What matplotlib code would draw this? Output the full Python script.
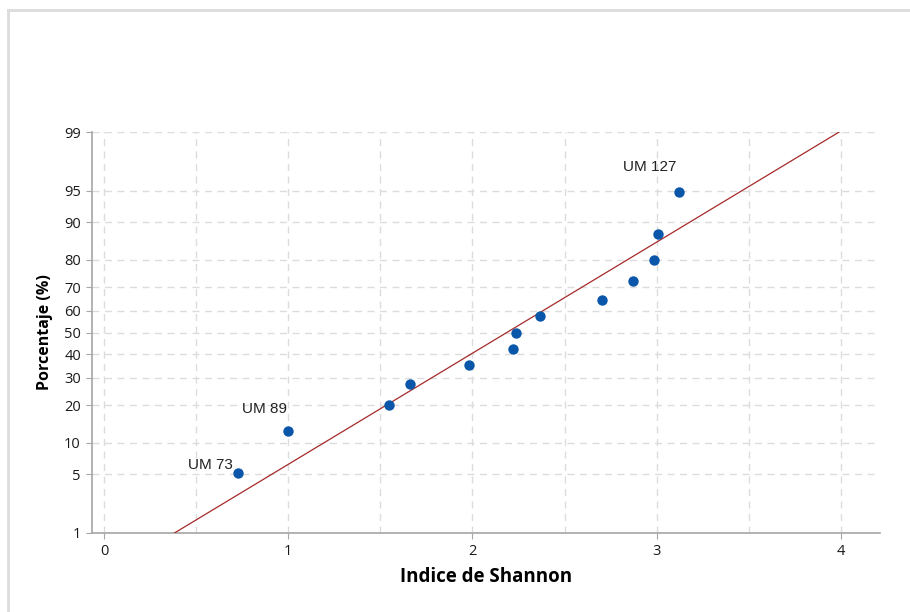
import matplotlib
matplotlib.use('Agg')
import matplotlib.pyplot as plt
from matplotlib.lines import Line2D
from matplotlib.ticker import FixedLocator, MultipleLocator
from statistics import NormalDist
import numpy as np

# Indice de Shannon por unidad de muestreo y su porcentaje acumulado
shannon = [0.727, 0.999, 1.548, 1.661, 1.981, 2.221, 2.237, 2.366, 2.704, 2.871, 2.983, 3.005, 3.121]
porcentaje = [5.2, 12.7, 20.1, 27.6, 35.1, 42.5, 50.0, 57.5, 64.9, 72.4, 79.9, 87.3, 94.8]
etiquetas = {0: 'UM 73', 1: 'UM 89', 12: 'UM 127'}
desfase = {0: (-5, 8), 1: (-1, 22), 12: (-3, 25)}

yticks = [1, 5, 10, 20, 30, 40, 50, 60, 70, 80, 90, 95, 99]
xticks = [0, 1, 2, 3, 4]

nd = NormalDist()
_ppf = np.vectorize(lambda p: nd.inv_cdf(min(max(p / 100.0, 1e-9), 1 - 1e-9)), otypes=[float])
_cdf = np.vectorize(lambda z: nd.cdf(z) * 100.0, otypes=[float])


def adelante(p):
    return _ppf(np.asarray(p, dtype=float))


def atras(z):
    return _cdf(np.asarray(z, dtype=float))


# recta de ajuste normal con media y desviacion de los datos
mu = np.mean(shannon)
sd = np.std(shannon, ddof=1)
p_recta = np.linspace(1, 99, 200)
x_recta = mu + sd * adelante(p_recta)

fig = plt.figure(figsize=(9.1, 6.12), dpi=100)
ax = fig.add_axes([92 / 910, 79 / 612, 788 / 910, 401 / 612])
ax.set_yscale('function', functions=(adelante, atras))

ax.plot(x_recta, p_recta, color='#a52a2a', lw=0.9, zorder=3)
ax.scatter(shannon, porcentaje, s=56, color='#0a56a8', zorder=4, linewidths=0)

for i, txt in etiquetas.items():
    ax.annotate(txt, (shannon[i], porcentaje[i]), xytext=desfase[i], textcoords='offset pixels',
                ha='right', va='center', fontsize=11, family='Liberation Sans', color='#222222')

ax.set_xlim(-0.065, 4.212)
ax.set_ylim(1, 99)
ax.yaxis.set_major_locator(FixedLocator(yticks))
ax.set_yticks(yticks)
ax.set_yticklabels([str(v) for v in yticks])
ax.yaxis.set_minor_locator(FixedLocator([]))
ax.set_xticks(xticks)
ax.set_xticklabels([str(v) for v in xticks])
ax.xaxis.set_minor_locator(MultipleLocator(0.5))

ax.grid(True, which='both', axis='x', color='#dcdcdc', ls=(0, (5, 4)), lw=1)
ax.grid(True, which='major', axis='y', color='#dcdcdc', ls=(0, (5, 4)), lw=1)
ax.set_axisbelow(True)

for s in ['top', 'right']:
    ax.spines[s].set_visible(False)
for s in ['left', 'bottom']:
    ax.spines[s].set_color('#a6a6a6')
    ax.spines[s].set_linewidth(1.2)

ax.tick_params(which='major', length=4, color='#a6a6a6', labelsize=10.5, labelcolor='#1a1a1a', pad=4)
ax.tick_params(which='minor', length=0)
for lab in ax.get_xticklabels() + ax.get_yticklabels():
    lab.set_family('Open Sans')

ax.set_xlabel('Indice de Shannon', fontsize=13.5, family='Open Sans', fontweight='bold', labelpad=6)
ax.set_ylabel('Porcentaje (%)', fontsize=11.5, family='Open Sans', fontweight='bold', labelpad=8)

# marco gris claro de la figura
fig.add_artist(Line2D([8 / 910, 1], [1 - 10 / 612, 1 - 10 / 612], color='#dcdcdc', lw=2))
fig.add_artist(Line2D([8 / 910, 8 / 910], [0, 1 - 10 / 612], color='#dcdcdc', lw=2))

fig.savefig('out.png', dpi=100)
